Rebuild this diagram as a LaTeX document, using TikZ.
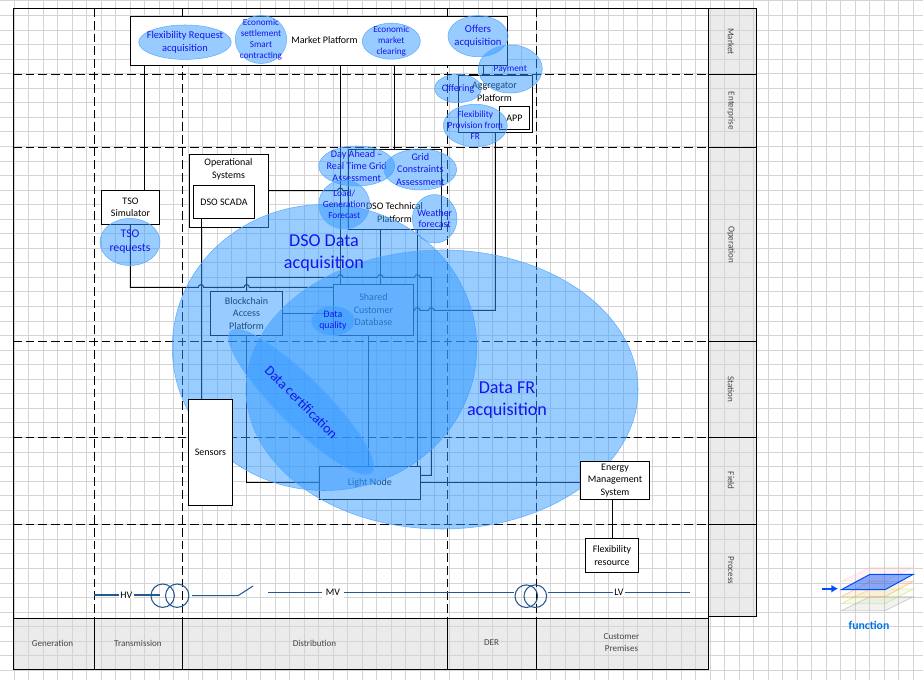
\documentclass[tikz,border=0pt]{standalone}
\usepackage{fontspec}
\setmainfont{Carlito}
\usetikzlibrary{shapes.geometric,arrows.meta}
\definecolor{gridgray}{HTML}{D4D4D4}
\definecolor{zonegray}{HTML}{EBEBEB}
\definecolor{funcblue}{HTML}{3399FF}
\definecolor{funcedge}{HTML}{5CADFF}
\definecolor{functxt}{HTML}{1414F0}
\definecolor{busblue}{HTML}{24588F}
\newcommand{\hop}[2]{-- (#1-2.7,#2) arc (180:0:2pt)}
\tikzset{
    boxsize/.style 2 args={minimum width=#1*0.75pt,minimum height=#2*0.75pt},
    zonebox/.style={inner sep=0pt,align=center,text=black!72,font=\fontsize{6.8}{8.4}\selectfont},
    sysbox/.style={draw=black,fill=white,inner sep=0pt,align=center,
        font=\fontsize{7.5}{9.4}\selectfont},
    boxtext/.style={inner sep=0pt,align=center,font=\fontsize{7.5}{9.4}\selectfont},
    funcell/.style={ellipse,draw=funcedge,fill=funcblue,fill opacity=0.5,inner sep=0pt},
    functext/.style={inner sep=0pt,align=center,text=functxt,text opacity=1,fill opacity=1,
        font=\fontsize{7.4}{8.6}\selectfont},
    bigtext/.style={functext,font=\fontsize{13.6}{16.5}\selectfont},
    wire/.style={draw=black,line width=0.75pt},
    bus/.style={draw=busblue,line width=0.8pt},
    layer/.style={fill opacity=0.2,draw opacity=0.35,line width=0.6pt},
}
\begin{document}
\begin{tikzpicture}[x=0.75pt,y=-0.75pt]
    \useasboundingbox (0,0) rectangle (923,680);

    % grey of the zones, under the grid
    \fill[zonegray] (708.7,8.5) rectangle (756.3,616.3);
    \fill[zonegray] (13,618.3) rectangle (708.7,669);

    % grid
    \foreach \k in {1,...,63}
        \draw[gridgray,line width=0.75pt] (14.5*\k-0.3,0) -- (14.5*\k-0.3,680);
    \foreach \k in {0,...,46}
        \draw[gridgray,line width=0.75pt] (0,14.55*\k+1) -- (923,14.55*\k+1);

    % outline of the plane
    \draw[wire] (13,8.5) rectangle (708.7,618.3);
    \draw[wire] (13,618.3) rectangle (708.7,669);
    \draw[wire] (708.7,8.5) rectangle (756.3,616.3);
    \foreach \ypos in {74.3,147.3,342,437,524.3}
        \draw[wire] (708.7,\ypos) -- (756.3,\ypos);
    \foreach \xpos in {94.5,182.5,447.5,536.3}
        \draw[wire] (\xpos,618.3) -- (\xpos,669);
    \foreach \ypos in {74.3,147.3,342,437,524.3}
        \draw[black,line width=0.75pt,dash pattern=on 6.5pt off 3pt] (13,\ypos) -- (708.7,\ypos);
    \foreach \xpos in {94.5,182.5,447.5,536.3}
        \draw[black,line width=0.75pt,dash pattern=on 6.5pt off 3pt] (\xpos,8.5) -- (\xpos,618.3);

    % zones
    \node[zonebox,rotate=-90] (market) at (731,41.4) {Market};
    \node[zonebox,rotate=-90] (enterprise) at (731,110.8) {Enterprise};
    \node[zonebox,rotate=-90] (operation) at (731,244.7) {Operation};
    \node[zonebox,rotate=-90] (station) at (731,389.5) {Station};
    \node[zonebox,rotate=-90] (field) at (731,480.7) {Field};
    \node[zonebox,rotate=-90] (process) at (731,570.3) {Process};
    \node[zonebox] (generation) at (52.5,643) {Generation};
    \node[zonebox] (transmission) at (138,643) {Transmission};
    \node[zonebox] (distribution) at (314.5,643) {Distribution};
    \node[zonebox] (der) at (491.5,643) {DER};
    \node[zonebox] (premises) at (621.5,642.5) {Customer\\Premises};

    % tracks of the connectors
    \coordinate (xtso) at (144.3,0);
    \coordinate (xbus) at (130.3,0);
    \coordinate (xscada) at (201,0);
    \coordinate (xchain) at (246.7,0);
    \coordinate (xmarket) at (340.3,0);
    \coordinate (xshared) at (368.7,0);
    \coordinate (xtech) at (380.3,0);
    \coordinate (xclear) at (394.3,0);
    \coordinate (xlight) at (417.3,0);
    \coordinate (xright) at (431.3,0);
    \coordinate (xagg) at (483,0);
    \coordinate (xdown) at (495.3,0);
    \coordinate (xems) at (612.3,0);
    \coordinate (yops) at (0,190.7);
    \coordinate (ytop) at (0,277.3);
    \coordinate (ybus) at (0,287.3);
    \coordinate (yshare) at (0,310.3);
    \coordinate (yquality) at (0,313.3);
    \coordinate (yback) at (0,475.3);
    \coordinate (ylight) at (0,482.3);

    % systems
    \node[sysbox,boxsize={377}{49}] (marketplat) at (318.8,40.8) {};
    \node[sysbox,boxsize={58.4}{33.6}] (tsosim) at (130.5,207.5) {TSO\\Simulator};
    \node[sysbox,boxsize={79.6}{73.6},anchor=north west] (opsys) at (188.7,153.7) {};
    \node[sysbox,boxsize={61.4}{33}] (scada) at (224,201.8) {DSO SCADA};
    \node[sysbox,boxsize={93.4}{80}] (techplat) at (395,189.3) {};
    \node[sysbox,boxsize={73.6}{57.3}] (aggplat) at (495.5,103.7) {};
    \node[sysbox,boxsize={30.4}{22.6}] (app) at (514.5,118) {APP};
    \node[sysbox,boxsize={72.4}{44}] (chain) at (246.5,313.3) {Blockchain\\Access\\Platform};
    \node[sysbox,boxsize={80.4}{51}] (shared) at (373.5,309.8) {Shared\\Customer\\Database};
    \node[sysbox,boxsize={101}{33}] (light) at (369.8,482.8) {Light Node};

    % texts of the boxes, off centre
    \node[boxtext] (marketlabel) at (324.5,40.5) {Market Platform};
    \node[boxtext] (opsyslabel) at (228.5,169.5) {Operational\\Systems};
    \node[boxtext] (techlabel) at (394.5,212.5) {DSO Technical\\Platform};
    \node[boxtext] (agglabel) at (494.5,92) {Aggregator\\Platform};

    % connectors
    \draw[wire] (xtso |- marketplat.south) -- (xtso |- tsosim.north);
    \draw[wire] (xmarket |- marketplat.south) -- (xmarket |- shared.north);
    \draw[wire] (xclear |- marketplat.south) -- (xclear |- techplat.north);
    \draw[wire] (xagg |- marketplat.south) -- (xagg |- aggplat.north);
    \draw[wire] (opsys.east |- yops) \hop{340.3}{190.7} -- (techplat.west |- yops);
    \draw[wire] (xtech |- techplat.south) -- (xtech |- shared.north);
    \draw[wire] (xlight |- techplat.south) -- (xlight |- light.north);
    \draw[wire] (xbus |- tsosim.south) -- (xbus |- ybus) \hop{201}{287.3} \hop{246.7}{287.3} -- (shared.west |- ybus);
    \draw[wire] (xchain |- chain.north) -- (xchain |- ytop) \hop{340.3}{277.3} \hop{380.3}{277.3} \hop{417.3}{277.3} -- (xright |- ytop) -- (xright |- yback) -- (light.east |- yback);
    \draw[wire] (shared.east |- yshare) \hop{417.3}{310.3} \hop{431.3}{310.3} -- (xdown |- yshare) -- (xdown |- aggplat.south);
    \draw[wire] (xscada |- scada.south) -- (xscada |- 0,399.3);
    \draw[wire] (chain.east |- yquality) -- (shared.west |- yquality);
    \draw[wire] (xchain |- chain.south) -- (xchain |- ylight) -- (light.west |- ylight);
    \draw[wire] (xshared |- shared.south) -- (xshared |- light.north);
    \draw[wire] (light.east |- ylight) -- (580.3,482.3);

    % functions
    \node[funcell,boxsize={304.4}{286}] (dsodata) at (324.5,347.5) {};
    \node[funcell,boxsize={392}{279}] (datafr) at (442,389.5) {};
    \node[funcell,boxsize={200}{48},rotate=-45,label={[functext,rotate=-45,font=\fontsize{10.4}{12}\selectfont]center:Data certification}] (certif) at (301.3,402) {};
    \node[funcell,boxsize={43.4}{29.6},label={[functext]center:Data\\quality}] (quality) at (333,320.8) {};
    \node[funcell,boxsize={92.6}{34.4},label={[functext,font=\fontsize{7.8}{9.6}\selectfont]center:Flexibility Request\\acquisition}] (flexreq) at (185,42.2) {};
    \node[funcell,boxsize={51.4}{48},label={[functext,font=\fontsize{6.9}{8.2}\selectfont]center:Economic\\settlement\\Smart\\contracting}] (settle) at (261,39.5) {};
    \node[funcell,boxsize={58}{36},label={[functext,font=\fontsize{6.9}{8.2}\selectfont]center:Economic\\market\\clearing}] (clearing) at (391.3,41.2) {};
    \node[funcell,boxsize={60}{41},label={[functext,font=\fontsize{8}{9.6}\selectfont]center:Offers\\acquisition}] (offers) at (478,36.2) {};
    \node[funcell,boxsize={64}{48},label={[functext,font=\fontsize{7}{8.6}\selectfont]center:Payment}] (payment) at (510.3,69) {};
    \node[funcell,boxsize={46.6}{28.4},label={[functext]center:Offering}] (offering) at (458,88.5) {};
    \node[funcell,boxsize={64}{42.4},label={[functext,font=\fontsize{7}{8.2}\selectfont]center:Flexibility\\Provision from\\FR}] (provision) at (475.3,125.5) {};
    \node[funcell,boxsize={76}{40},label={[functext,font=\fontsize{7.6}{9.2}\selectfont]center:Day Ahead --\\Real Time Grid\\Assessment}] (dayahead) at (356.7,166) {};
    \node[funcell,boxsize={72.6}{41},label={[functext,font=\fontsize{7.6}{9.2}\selectfont]center:Grid\\Constraints\\Assessment}] (constraints) at (420.3,169.5) {};
    \node[funcell,boxsize={51}{49},label={[functext,font=\fontsize{7}{8.2}\selectfont]center:Load/\\Generation\\Forecast}] (loadfc) at (344.2,204.5) {};
    \node[funcell,boxsize={44.6}{48.4},label={[functext]center:Weather\\forecast}] (weather) at (434.7,218.8) {};
    \node[funcell,boxsize={60}{47},label={[functext,font=\fontsize{8.8}{10.6}\selectfont]center:TSO\\requests}] (tsoreq) at (130,242) {};

    \node[bigtext] (dsodatalabel) at (324,253) {DSO Data\\acquisition};
    \node[bigtext] (datafrlabel) at (507,400.5) {Data FR\\acquisition};

    % boxes that lie over the functions
    \node[sysbox,boxsize={44.4}{106}] (sensors) at (210.5,452.3) {Sensors};
    \node[sysbox,boxsize={69.4}{38}] (ems) at (615,480.3) {Energy\\Management\\System};
    \node[sysbox,boxsize={53.4}{34}] (flexres) at (612,555.3) {Flexibility\\resource};
    \draw[wire] (xems |- ems.south) -- (xems |- flexres.north);

    % single line of the network
    \coordinate (hvstart) at (94,595);
    \coordinate (hvend) at (160,595);
    \node[boxtext,fill=white,inner xsep=1pt] (hv) at (126.3,595) {HV};
    \node[circle,bus,minimum size=23.4*0.75pt,inner sep=0pt] (trafoa) at (162.7,595.7) {};
    \node[circle,bus,minimum size=23.4*0.75pt,inner sep=0pt] (trafob) at (177.2,595.7) {};
    \draw[bus] (hvstart) -- (hv.west);
    \draw[bus] (hv.east) -- (hvend);
    \coordinate (swstart) at (192,595.7);
    \coordinate (swpivot) at (238,595.7);
    \coordinate (swend) at (253,586);
    \draw[bus] (swstart) -- (swpivot) -- (swend);
    \coordinate (mvstart) at (268,592.3);
    \node[boxtext,fill=white,inner xsep=3pt,inner ysep=2pt] (mv) at (333,592.3) {MV};
    \node[circle,bus,minimum size=22.6*0.75pt,inner sep=0pt] (trafoc) at (526.3,596.2) {};
    \node[circle,bus,minimum size=22.6*0.75pt,inner sep=0pt] (trafod) at (535.3,596.2) {};
    \draw[bus] (mvstart) -- (mv.west);
    \draw[bus] (mv.east) -- (trafoc.west |- mv.east);
    \coordinate (lvstart) at (548,592.7);
    \coordinate (lvend) at (690,592.7);
    \node[boxtext,fill=white,inner xsep=1pt] (lv) at (619,592.7) {LV};
    \draw[bus] (lvstart) -- (lv.west);
    \draw[bus] (lv.east) -- (lvend);

    % legend
    \filldraw[layer,fill=gray!50,draw=gray] (841.3,610.7) -- (870,596.7) -- (913.3,596.7) -- (885,610.7) -- cycle;
    \filldraw[layer,fill=yellow!50!green!40,draw=yellow!60!green] (841.3,603.7) -- (870,589) -- (913.3,589) -- (885,603.7) -- cycle;
    \filldraw[layer,fill=orange!50,draw=orange] (841.3,596.7) -- (870,581.3) -- (913.3,581.3) -- (885,596.7) -- cycle;
    \filldraw[layer,fill=pink,draw=pink] (841.3,581.3) -- (870,567.3) -- (913.3,567.3) -- (885,581.3) -- cycle;
    \filldraw[fill=blue!70!cyan,fill opacity=0.45,draw=blue!70!cyan,line width=0.75pt] (841.3,589.7) -- (870,574.3) -- (913.3,574.3) -- (885,589.7) -- cycle;
    \coordinate (legendfrom) at (822,588.7);
    \coordinate (legendto) at (838,588.7);
    \draw[-{Latex[length=5pt,width=6pt]},blue!70!cyan,line width=1.5pt] (legendfrom) -- (legendto);
    \node[inner sep=0pt,text=blue!50!cyan!90!black,font=\fontsize{8.8}{10}\bfseries\selectfont] (legendname) at (869,625.3) {function};
\end{tikzpicture}
\end{document}
